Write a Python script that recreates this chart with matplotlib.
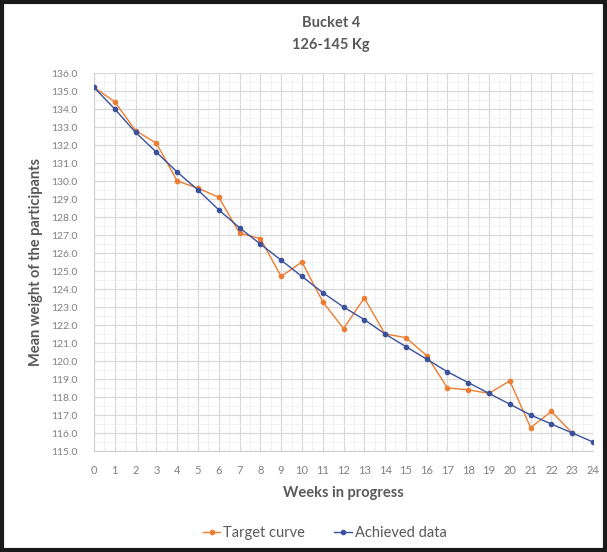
"""Bucket 4 (126-145 Kg): target curve vs achieved mean weight per week."""

import matplotlib
matplotlib.use("Agg")
import matplotlib.pyplot as plt
from matplotlib.patches import Rectangle
from matplotlib.ticker import MultipleLocator

plt.rcParams["font.family"] = ["Lato", "DejaVu Sans"]

# Weeks 0..24
WEEKS = list(range(25))

# Target curve (orange) ends at week 23
TARGET = [135.2, 134.4, 132.8, 132.1, 130.0, 129.6, 129.1, 127.1, 126.8,
          124.7, 125.5, 123.3, 121.8, 123.5, 121.5, 121.3, 120.3, 118.5,
          118.4, 118.2, 118.9, 116.3, 117.2, 116.0]

# Achieved data (blue)
ACHIEVED = [135.2, 134.0, 132.7, 131.6, 130.5, 129.5, 128.4, 127.4, 126.5,
            125.6, 124.7, 123.8, 123.0, 122.3, 121.5, 120.8, 120.1, 119.4,
            118.8, 118.2, 117.6, 117.0, 116.5, 116.0, 115.5]

Y_MIN, Y_MAX = 115.0, 136.0

ORANGE = "#ED7D31"
BLUE = "#3A519E"
TEXT = "#595959"
TICK = "#808080"

fig = plt.figure(figsize=(6.07, 5.52), dpi=100)
ax = fig.add_axes([94 / 607, 1 - 451 / 552, (593 - 94) / 607, (451 - 73) / 552])

ax.plot(WEEKS[:len(TARGET)], TARGET, color=ORANGE, lw=1.0, marker="o",
        ms=3, label="Target curve", zorder=3)
ax.plot(WEEKS, ACHIEVED, color=BLUE, lw=1.0, marker="o",
        ms=3, label="Achieved data", zorder=4)

ax.set_xlim(0, 24)
ax.set_ylim(Y_MIN, Y_MAX)
ax.xaxis.set_major_locator(MultipleLocator(1))
ax.yaxis.set_major_locator(MultipleLocator(1))
ax.xaxis.set_minor_locator(MultipleLocator(0.5))
ax.yaxis.set_minor_locator(MultipleLocator(0.5))
ax.yaxis.set_major_formatter(lambda v, p: f"{v:.1f}")

ax.grid(True, which="major", color="#D9D9D9", lw=0.9)
ax.grid(True, which="minor", color="#F0F0F0", lw=0.6)
ax.set_axisbelow(True)
for side in ("top", "right"):
    ax.spines[side].set_visible(False)
for side in ("left", "bottom"):
    ax.spines[side].set_color("#D0D0D0")
ax.tick_params(which="both", length=0)
ax.tick_params(axis="y", labelsize=7.5, labelcolor=TICK, pad=12)
ax.tick_params(axis="x", labelsize=8, labelcolor=TICK, pad=10)

ax.set_xlabel("Weeks in progress", fontsize=10.5, fontweight="bold",
              color=TEXT, labelpad=7)
ax.set_ylabel("Mean weight of the participants", fontsize=10.5,
              fontweight="bold", color=TEXT, labelpad=6)

fig.text(0.545, 0.958, "Bucket 4", ha="center", va="center",
         fontsize=10.5, fontweight="bold", color=TEXT)
fig.text(0.545, 0.918, "126-145 Kg", ha="center", va="center",
         fontsize=10.5, fontweight="bold", color=TEXT)

fig.legend(loc="center", bbox_to_anchor=(0.535, 0.034), ncol=2,
           frameon=False, fontsize=10.5, handlelength=1.2,
           handletextpad=0.2, columnspacing=2.0, labelcolor=TEXT)

# dark frame round the whole picture
fig.patches.append(Rectangle((0.004, 0.004), 0.992, 0.992,
                             transform=fig.transFigure, fill=False,
                             edgecolor="#1A1A1A", lw=3))

fig.savefig("out.png", dpi=100)
